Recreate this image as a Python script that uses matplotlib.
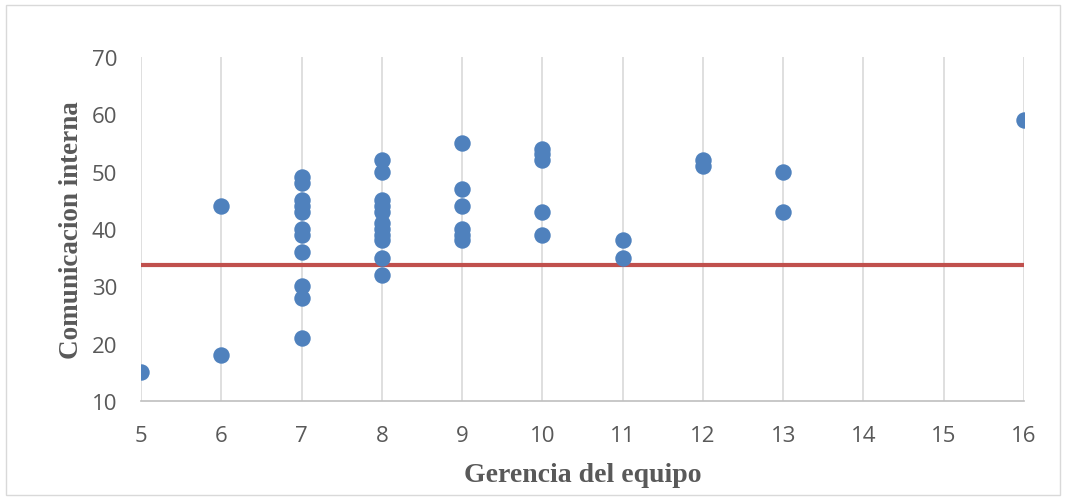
import matplotlib
matplotlib.use("Agg")
import matplotlib.pyplot as plt
from matplotlib.patches import Rectangle

# Data
gerencia = [5,
            6, 6,
            7, 7, 7, 7, 7, 7, 7, 7, 7, 7, 7,
            8, 8, 8, 8, 8, 8, 8, 8, 8, 8, 8,
            9, 9, 9, 9, 9, 9,
            10, 10, 10, 10, 10,
            11, 11,
            12, 12,
            13, 13,
            16]
comunicacion = [15,
                44, 18,
                49, 48, 45, 44, 43, 40, 39, 36, 30, 28, 21,
                52, 50, 45, 44, 43, 41, 40, 39, 38, 35, 32,
                55, 47, 44, 40, 39, 38,
                54, 53, 52, 43, 39,
                38, 35,
                52, 51,
                50, 43,
                59]
reference_value = 33.7
x_ticks = list(range(5, 17))
y_ticks = list(range(10, 71, 10))

fig = plt.figure(figsize=(10.66, 5.02), dpi=100)
ax = fig.add_axes([141/1066, 1 - 402/502, (1024-141)/1066, (402-58)/502])

ax.scatter(gerencia, comunicacion, s=140, color="#4F81BD", zorder=3, linewidths=0)
ax.axhline(reference_value, color="#C0504D", linewidth=3, zorder=2)

ax.set_xlim(5, 16)
ax.set_ylim(10, 70)
ax.set_xticks(x_ticks)
ax.set_yticks(y_ticks)
ax.grid(axis="x", color="#D9D9D9", linewidth=1.2, zorder=0)
ax.set_axisbelow(True)
for s in ["top", "right", "left"]:
    ax.spines[s].set_visible(False)
ax.spines["bottom"].set_color("#BFBFBF")
ax.spines["bottom"].set_linewidth(1.2)
ax.tick_params(axis="x", length=0, labelsize=16, colors="#595959", pad=17)
ax.tick_params(axis="y", length=0, labelsize=16, colors="#595959", pad=17)
for lab in ax.get_xticklabels() + ax.get_yticklabels():
    lab.set_family("Open Sans")

ax.set_xlabel("Gerencia del equipo", fontsize=20, fontweight="bold",
              family="Liberation Serif", color="#595959", labelpad=12)
ax.set_ylabel("Comunicacion interna", fontsize=19.5, fontweight="bold",
              family="Liberation Serif", color="#595959", labelpad=6)

fig.patches.append(Rectangle((6/1066, 6/502), 1054/1066, 490/502, transform=fig.transFigure,
                             fill=False, edgecolor="#D9D9D9", linewidth=1))

fig.savefig("out.png", dpi=100)
